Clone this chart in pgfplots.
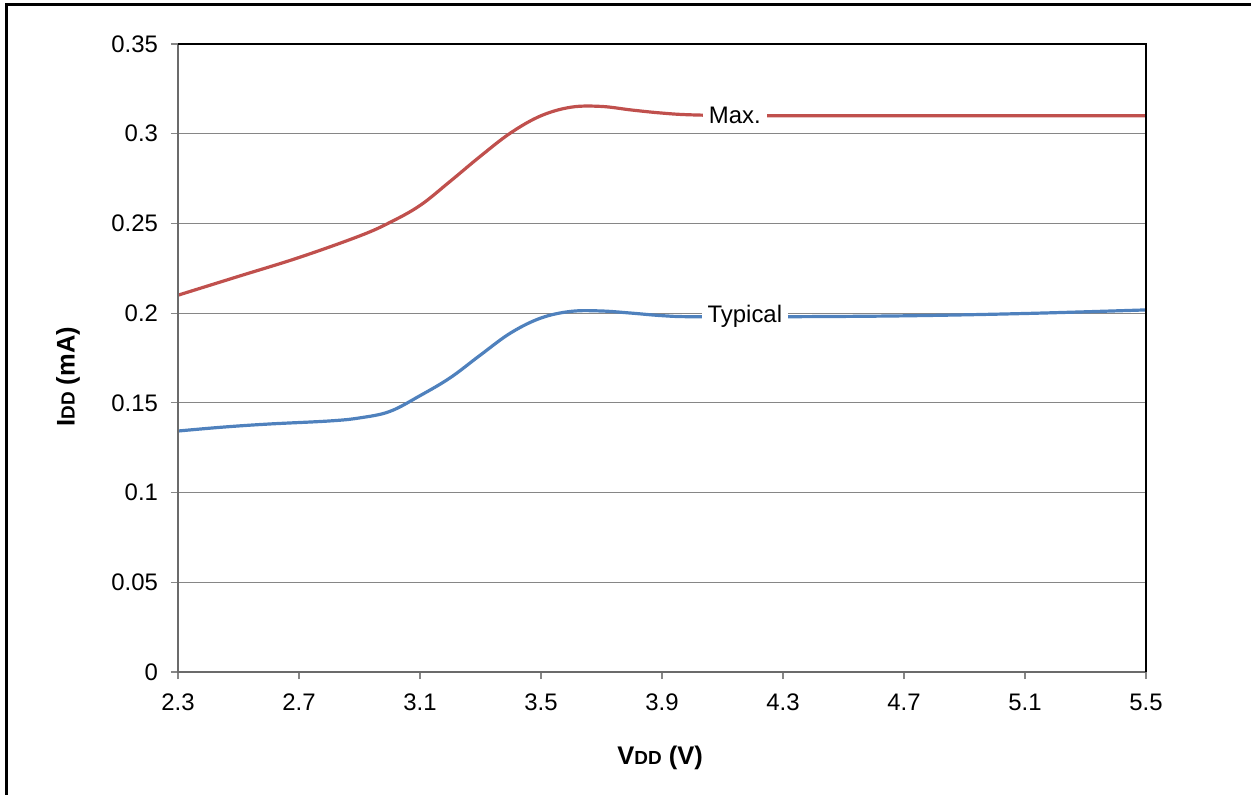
\documentclass[border=0pt]{standalone}
\usepackage{fontspec}
\setmainfont{Liberation Sans}
\usepackage{pgfplots}
\pgfplotsset{compat=1.18}
\definecolor{maxred}{RGB}{192,80,77}
\definecolor{typblue}{RGB}{79,129,189}
\definecolor{gridgray}{RGB}{134,134,134}
\begin{document}
\begin{tikzpicture}[x=1bp,y=1bp]
\useasboundingbox (-89bp,-61.5bp) rectangle (536.5bp,336bp);
\draw[black,line width=1.5bp] (-85.5bp,-70bp) -- (-85.5bp,333.5bp) -- (545bp,333.5bp);
\begin{axis}[
  at={(0,0)}, anchor=origin,
  scale only axis, width=484bp, height=314bp,
  xmin=2.3, xmax=5.5, ymin=0, ymax=0.35,
  xtick={2.3,2.7,3.1,3.5,3.9,4.3,4.7,5.1,5.5},
  ytick={0,0.05,0.1,0.15,0.2,0.25,0.3,0.35},
  xticklabels={2.3,2.7,3.1,3.5,3.9,4.3,4.7,5.1,5.5},
  yticklabels={0,0.05,0.1,0.15,0.2,0.25,0.3,0.35},
  xtick pos=lower, ytick pos=left,
  tick align=outside, major tick length=3.5bp,
  tick style={gridgray, line width=0.6bp},
  ymajorgrids, grid style={gridgray, line width=0.6bp},
  axis line style={draw=none},
  clip=false,
  ticklabel style={font=\fontsize{12}{14}\selectfont},
  yticklabel style={anchor=east, xshift=-3bp},
  xticklabel style={anchor=north, yshift=-4bp},
  xlabel={\textbf{V{\fontsize{9.5}{11}\selectfont DD} (V)}},
  ylabel={\textbf{I{\fontsize{9.5}{11}\selectfont DD} (mA)}},
  label style={font=\fontsize{12.8}{15}\selectfont},
  xlabel style={at={(axis description cs:0.498,-0.137)}, anchor=center},
  ylabel style={at={(axis description cs:-0.1136,0.47)}, anchor=center},
]
\addplot[maxred, line width=1.6bp, smooth, tension=0.6] coordinates {
 (2.3,0.210) (2.5,0.2205) (2.7,0.231) (2.9,0.243) (3.0,0.2505) (3.1,0.260)
 (3.2,0.2735) (3.3,0.2875) (3.4,0.3005) (3.5,0.3100) (3.6,0.3148) (3.7,0.3152)
 (3.8,0.3132) (3.9,0.3115) (4.0,0.3105) (4.2,0.3100) (4.6,0.3100) (5.0,0.3100) (5.5,0.3100)
};
\addplot[typblue, line width=1.6bp, smooth, tension=0.6] coordinates {
 (2.3,0.1343) (2.45,0.1365) (2.6,0.1382) (2.8,0.1399) (2.9,0.1416) (3.0,0.1452)
 (3.1,0.1540) (3.2,0.1640) (3.3,0.1767) (3.4,0.1890) (3.5,0.1973) (3.6,0.2010)
 (3.7,0.2012) (3.8,0.2000) (3.9,0.1986) (4.0,0.1980) (4.3,0.1980) (4.7,0.1985)
 (5.1,0.1998) (5.5,0.2018)
};
\node[fill=white, inner sep=3bp, font=\fontsize{12}{14}\selectfont] at (axis cs:4.141,0.310) {Max.};
\node[fill=white, inner sep=3bp, font=\fontsize{12}{14}\selectfont] at (axis cs:4.174,0.1985) {Typical};
\draw[gridgray!80!black, line width=1bp] (rel axis cs:0,1) -- (rel axis cs:0,0) -- (rel axis cs:1,0);
\draw[black, line width=1bp] (rel axis cs:0,1) -- (rel axis cs:1,1) -- (rel axis cs:1,0);
\end{axis}
\end{tikzpicture}
\end{document}
